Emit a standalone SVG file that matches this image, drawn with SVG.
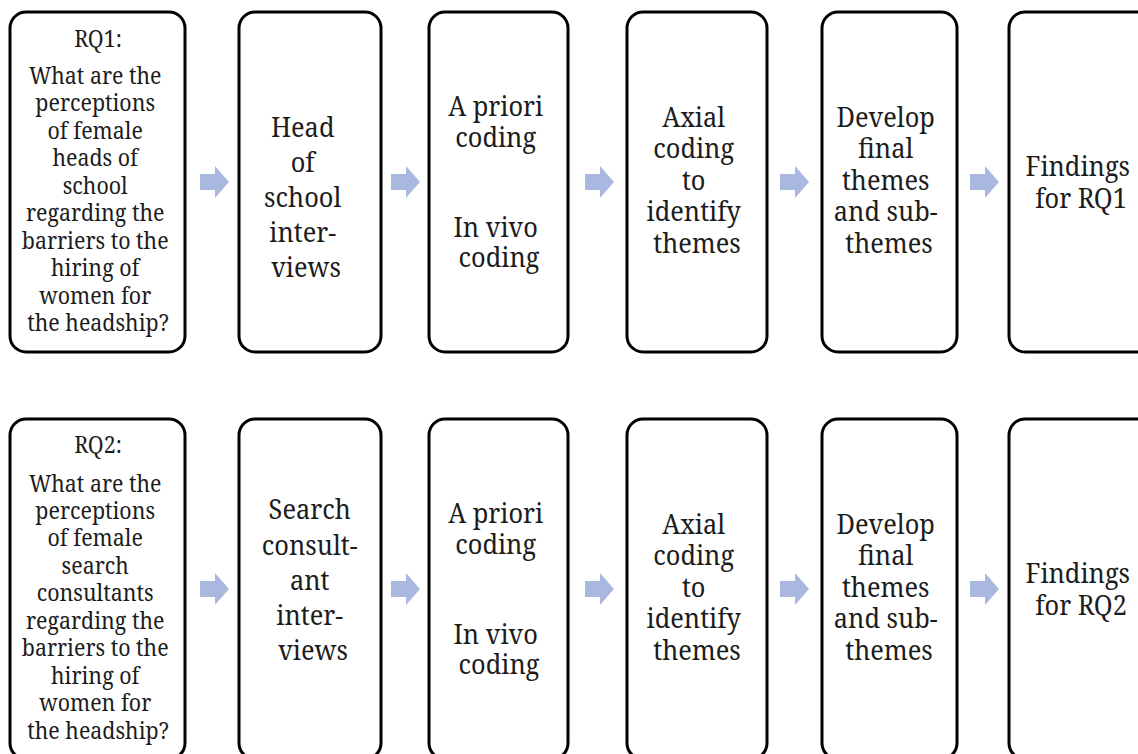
<svg xmlns="http://www.w3.org/2000/svg" width="1138" height="754" viewBox="0 0 1138 754">
  <style>
    .box { fill: #ffffff; stroke: #000000; stroke-width: 3; }
    .q { font-family: 'Noto Serif', 'Liberation Serif', serif; font-size: 23px; fill: #1c1c1c; text-anchor: middle; }
    .t { font-family: 'Noto Serif', 'Liberation Serif', serif; font-size: 27px; fill: #1c1c1c; text-anchor: middle; }
    .arrow { fill: #a9b8de; }
  </style>
  <defs>
    <!-- block arrow, tip at (29,0) -->
    <path id="blockArrow" d="M0,-8 H15 V-16 L29,0 L15,16 V8 H0 Z"/>
  </defs>
  <rect width="1138" height="754" fill="#ffffff"/>

  <!-- Row 1: RQ1 -->
  <g id="rq1">
    <rect class="box" x="10" y="12" width="175" height="340" rx="16"/>
    <g transform="translate(98 0) scale(0.93 1)">
      <text class="q" x="0" y="47">RQ1:</text>
      <text class="q">
        <tspan x="0" y="84">What are the</tspan>
        <tspan x="0" y="111.5">perceptions</tspan>
        <tspan x="0" y="139">of female</tspan>
        <tspan x="0" y="166.5">heads of</tspan>
        <tspan x="0" y="194">school</tspan>
        <tspan x="0" y="221.5">regarding the</tspan>
        <tspan x="0" y="249">barriers to the</tspan>
        <tspan x="0" y="276.5">hiring of</tspan>
        <tspan x="0" y="304">women for</tspan>
        <tspan x="0" y="331.5">the headship?</tspan>
      </text>
    </g>
  </g>
  <g id="rq1-interviews">
    <rect class="box" x="239" y="12" width="142" height="340" rx="16"/>
    <g transform="translate(306 0) scale(0.94 1)">
      <text class="t">
        <tspan x="0" y="137">Head</tspan>
        <tspan x="0" y="172">of</tspan>
        <tspan x="0" y="207">school</tspan>
        <tspan x="0" y="242">inter-</tspan>
        <tspan x="0" y="277">views</tspan>
      </text>
    </g>
  </g>
  <g id="rq1-coding">
    <rect class="box" x="429" y="12" width="139" height="340" rx="16"/>
    <g transform="translate(499 0) scale(0.94 1)">
      <text class="t">
        <tspan x="0" y="116">A priori</tspan>
        <tspan x="0" y="147">coding</tspan>
        <tspan x="0" y="237">In vivo</tspan>
        <tspan x="0" y="267">coding</tspan>
      </text>
    </g>
  </g>
  <g id="rq1-axial">
    <rect class="box" x="627" y="12" width="140" height="340" rx="16"/>
    <g transform="translate(697 0) scale(0.94 1)">
      <text class="t">
        <tspan x="0" y="127">Axial</tspan>
        <tspan x="0" y="158">coding</tspan>
        <tspan x="0" y="190">to</tspan>
        <tspan x="0" y="221">identify</tspan>
        <tspan x="0" y="253">themes</tspan>
      </text>
    </g>
  </g>
  <g id="rq1-themes">
    <rect class="box" x="822" y="12" width="135" height="340" rx="16"/>
    <g transform="translate(889 0) scale(0.94 1)">
      <text class="t">
        <tspan x="0" y="127">Develop</tspan>
        <tspan x="0" y="158">final</tspan>
        <tspan x="0" y="190">themes</tspan>
        <tspan x="0" y="221">and sub-</tspan>
        <tspan x="0" y="253">themes</tspan>
      </text>
    </g>
  </g>
  <g id="rq1-findings">
    <rect class="box" x="1009" y="12" width="150" height="340" rx="16"/>
    <g transform="translate(1081 0) scale(0.94 1)">
      <text class="t">
        <tspan x="0" y="176">Findings</tspan>
        <tspan x="0" y="208">for RQ1</tspan>
      </text>
    </g>
  </g>

  <!-- Row 2: RQ2 -->
  <g id="rq2">
    <rect class="box" x="10" y="419" width="175" height="340" rx="16"/>
    <g transform="translate(98 0) scale(0.93 1)">
      <text class="q" x="0" y="453">RQ2:</text>
      <text class="q">
        <tspan x="0" y="491.5">What are the</tspan>
        <tspan x="0" y="519">perceptions</tspan>
        <tspan x="0" y="546.5">of female</tspan>
        <tspan x="0" y="574">search</tspan>
        <tspan x="0" y="601.5">consultants</tspan>
        <tspan x="0" y="629">regarding the</tspan>
        <tspan x="0" y="656.5">barriers to the</tspan>
        <tspan x="0" y="684">hiring of</tspan>
        <tspan x="0" y="711.5">women for</tspan>
        <tspan x="0" y="739">the headship?</tspan>
      </text>
    </g>
  </g>
  <g id="rq2-interviews">
    <rect class="box" x="239" y="419" width="142" height="340" rx="16"/>
    <g transform="translate(313 0) scale(0.94 1)">
      <text class="t">
        <tspan x="0" y="519">Search</tspan>
        <tspan x="0" y="555">consult-</tspan>
        <tspan x="0" y="590">ant</tspan>
        <tspan x="0" y="625">inter-</tspan>
        <tspan x="0" y="660">views</tspan>
      </text>
    </g>
  </g>
  <g id="rq2-coding">
    <rect class="box" x="429" y="419" width="139" height="340" rx="16"/>
    <g transform="translate(499 0) scale(0.94 1)">
      <text class="t">
        <tspan x="0" y="523">A priori</tspan>
        <tspan x="0" y="554">coding</tspan>
        <tspan x="0" y="644">In vivo</tspan>
        <tspan x="0" y="674">coding</tspan>
      </text>
    </g>
  </g>
  <g id="rq2-axial">
    <rect class="box" x="627" y="419" width="140" height="340" rx="16"/>
    <g transform="translate(697 0) scale(0.94 1)">
      <text class="t">
        <tspan x="0" y="534">Axial</tspan>
        <tspan x="0" y="565">coding</tspan>
        <tspan x="0" y="597">to</tspan>
        <tspan x="0" y="628">identify</tspan>
        <tspan x="0" y="660">themes</tspan>
      </text>
    </g>
  </g>
  <g id="rq2-themes">
    <rect class="box" x="822" y="419" width="135" height="340" rx="16"/>
    <g transform="translate(889 0) scale(0.94 1)">
      <text class="t">
        <tspan x="0" y="534">Develop</tspan>
        <tspan x="0" y="565">final</tspan>
        <tspan x="0" y="597">themes</tspan>
        <tspan x="0" y="628">and sub-</tspan>
        <tspan x="0" y="660">themes</tspan>
      </text>
    </g>
  </g>
  <g id="rq2-findings">
    <rect class="box" x="1009" y="419" width="150" height="340" rx="16"/>
    <g transform="translate(1081 0) scale(0.94 1)">
      <text class="t">
        <tspan x="0" y="583">Findings</tspan>
        <tspan x="0" y="615">for RQ2</tspan>
      </text>
    </g>
  </g>

  <!-- Connectors: block arrows between stages -->
  <g id="connectors" class="arrow">
    <use href="#blockArrow" x="200" y="182"/>
    <use href="#blockArrow" x="391" y="182"/>
    <use href="#blockArrow" x="585" y="182"/>
    <use href="#blockArrow" x="780" y="182"/>
    <use href="#blockArrow" x="970" y="182"/>
    <use href="#blockArrow" x="200" y="589"/>
    <use href="#blockArrow" x="391" y="589"/>
    <use href="#blockArrow" x="585" y="589"/>
    <use href="#blockArrow" x="780" y="589"/>
    <use href="#blockArrow" x="970" y="589"/>
  </g>
</svg>
